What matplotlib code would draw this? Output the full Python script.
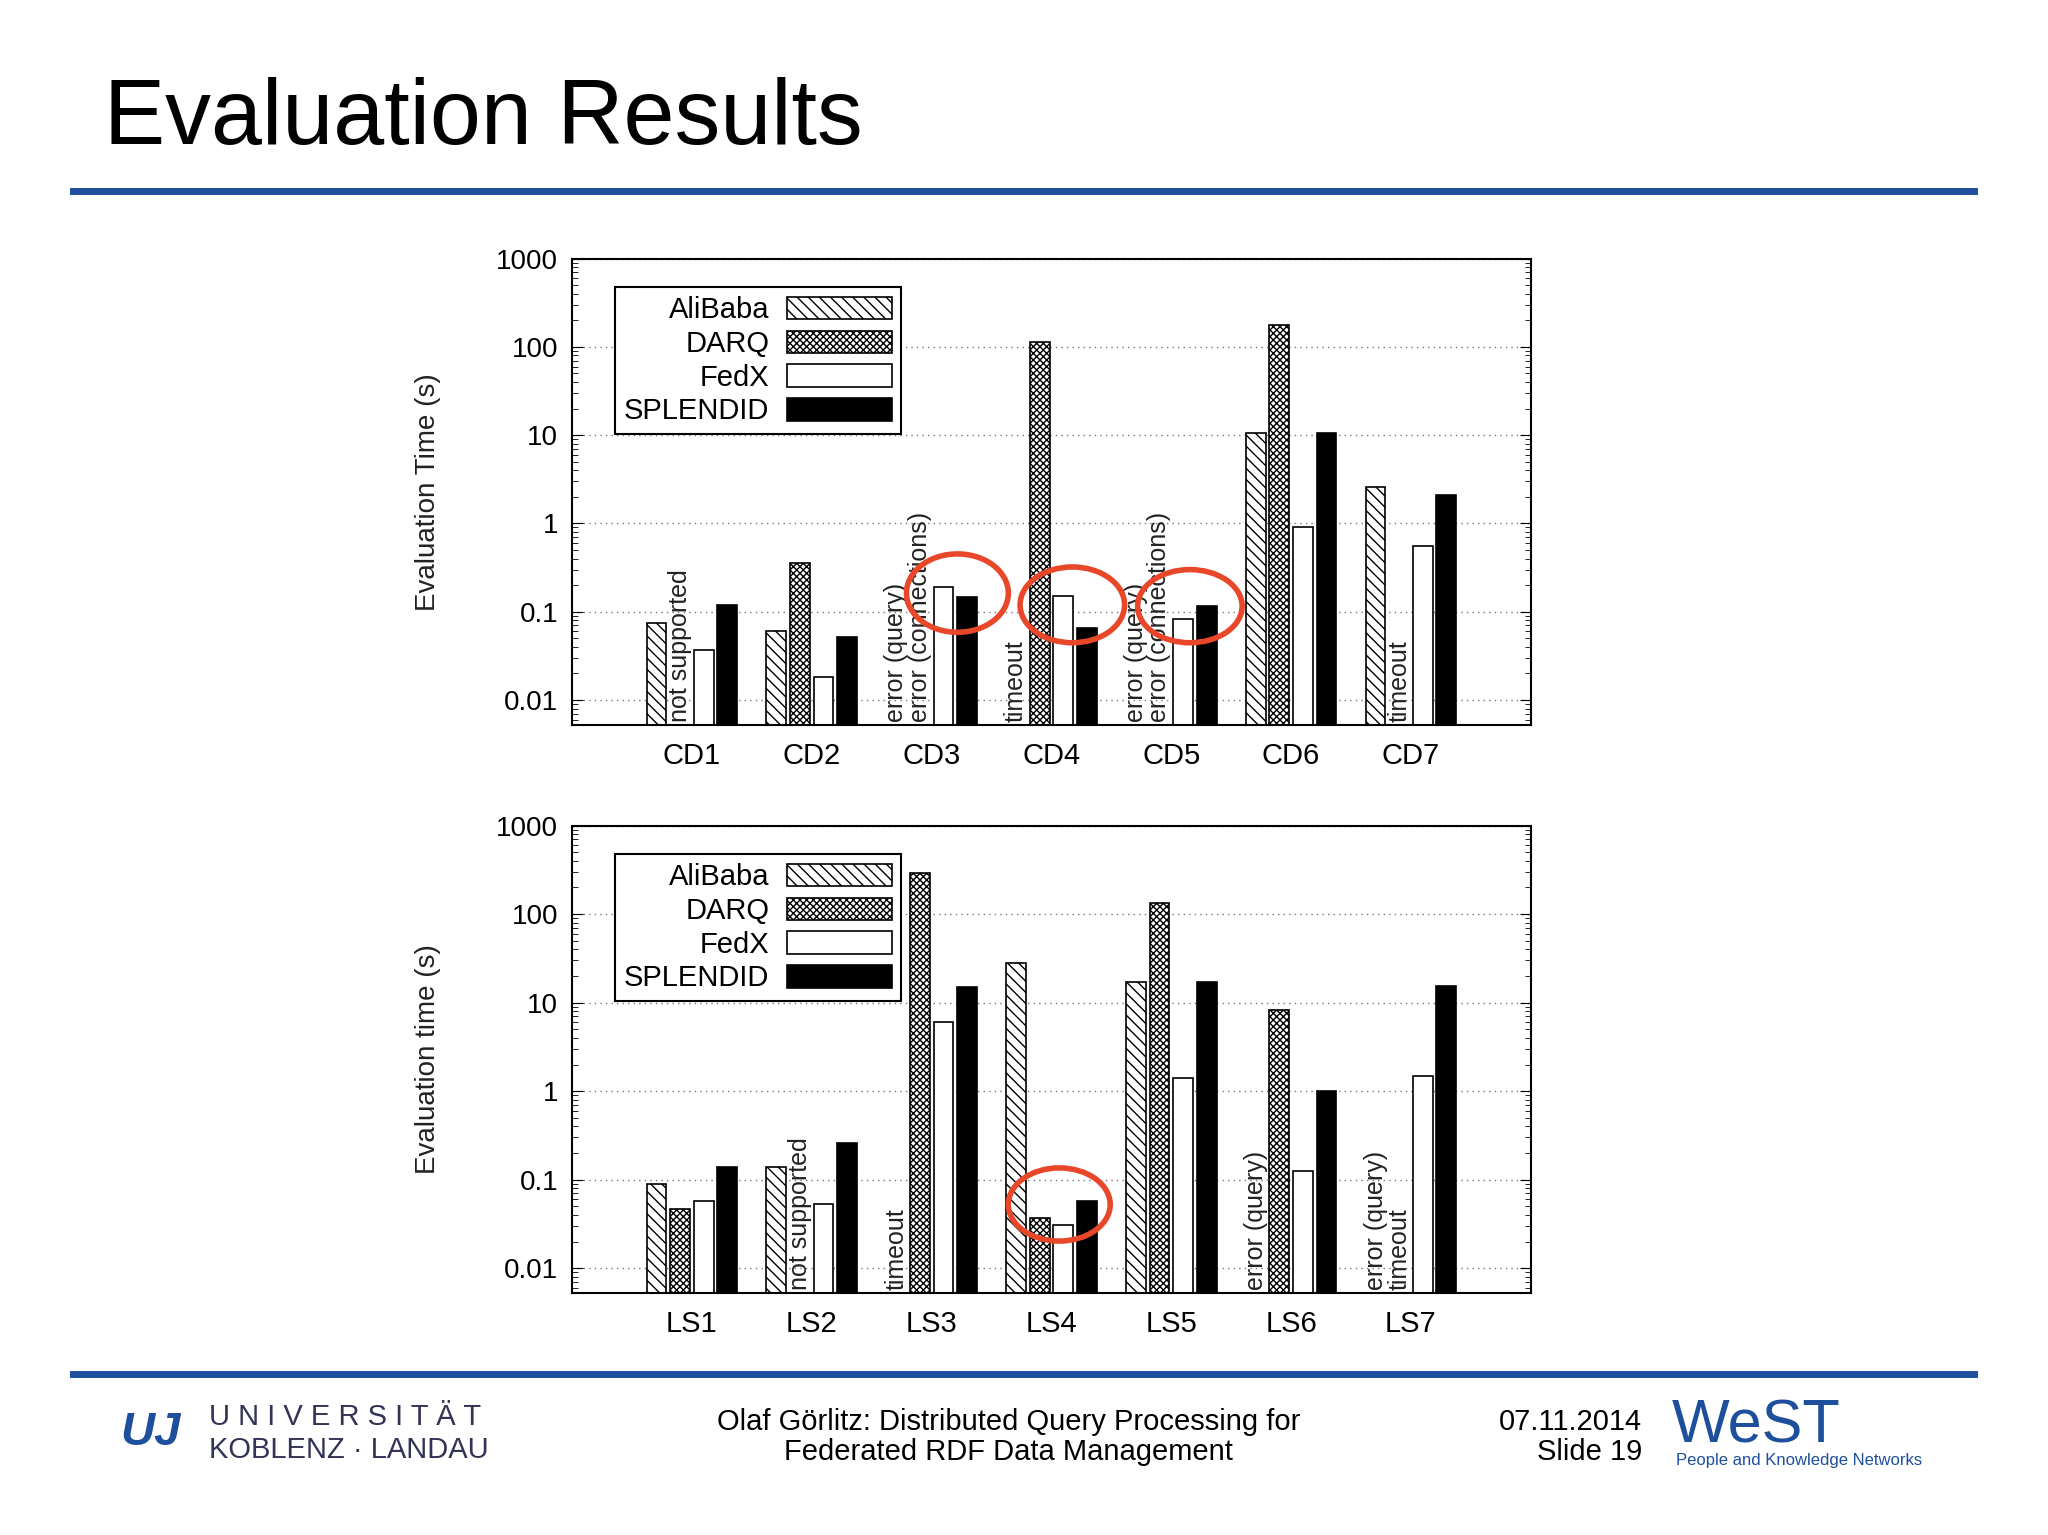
import numpy as np
import matplotlib
matplotlib.use("Agg")
import matplotlib.pyplot as plt
from matplotlib.patches import Ellipse, Patch
from matplotlib.ticker import FixedLocator, LogLocator, NullFormatter

plt.rcParams["font.family"] = ["Liberation Sans", "DejaVu Sans"]

# ── data ──────────────────────────────────────────────────────────────────────
systems = ["AliBaba", "DARQ", "FedX", "SPLENDID"]
cd_groups = ["CD1", "CD2", "CD3", "CD4", "CD5", "CD6", "CD7"]
cd_alibaba = [0.075, 0.06, None, None, None, 10.5, 2.6]
cd_darq = [None, 0.36, None, 115, None, 175, None]
cd_fedx = [0.037, 0.018, 0.19, 0.15, 0.083, 0.9, 0.55]
cd_splendid = [0.12, 0.052, 0.145, 0.065, 0.115, 10.5, 2.1]
# (group index, system index, note)
cd_notes = [(0, 1, "not supported"), (2, 0, "error (query)"),
            (2, 1, "error (connections)"), (3, 0, "timeout"),
            (4, 0, "error (query)"), (4, 1, "error (connections)"),
            (6, 1, "timeout")]

ls_groups = ["LS1", "LS2", "LS3", "LS4", "LS5", "LS6", "LS7"]
ls_alibaba = [0.09, 0.14, None, 28, 17, None, None]
ls_darq = [0.047, None, 290, 0.037, 135, 8.2, None]
ls_fedx = [0.058, 0.053, 6.0, 0.031, 1.4, 0.125, 1.5]
ls_splendid = [0.14, 0.26, 15, 0.058, 17, 1.0, 15.5]
ls_notes = [(1, 1, "not supported"), (2, 0, "timeout"), (5, 0, "error (query)"),
            (6, 0, "error (query)"), (6, 1, "timeout")]

W, H = 1568, 1175  # layout reference grid
fig = plt.figure(figsize=(20.48, 15.35), dpi=100)
fig.patch.set_facecolor("white")

def fx(x):
    return x / W

def fy(y):
    return 1 - y / H

styles = [dict(facecolor="white", hatch="\\\\\\"),
          dict(facecolor="white", hatch="xxxxx"),
          dict(facecolor="white", hatch=None),
          dict(facecolor="black", hatch=None)]
offsets = [-1.5, -0.5, 0.5, 1.5]
bw, step = 0.165, 0.197
ticklabels = ["0.01", "0.1", "1", "10", "100", "1000"]
tickvals = [0.01, 0.1, 1, 10, 100, 1000]


def panel(rect, groups, series, notes, ylabel):
    ax = fig.add_axes(rect)
    x = np.arange(1, len(groups) + 1)
    ax.set_yscale("log")
    ymin = 0.0052
    for k, vals in enumerate(series):
        for i, v in enumerate(vals):
            if v is None:
                continue
            ax.bar(x[i] + offsets[k] * step, v - ymin, bottom=ymin, width=bw,
                   edgecolor="black", linewidth=1.2, **styles[k])
    for gi, si, txt in notes:
        ax.text(x[gi] + offsets[si] * step, 0.0057, txt, rotation=90,
                ha="center", va="bottom", fontsize=18, color="#222222")
    ax.set_ylim(ymin, 1000)
    ax.set_xlim(0, 8)
    ax.set_xticks(x)
    ax.set_xticklabels(groups, fontsize=21)
    ax.yaxis.set_major_locator(FixedLocator(tickvals))
    ax.set_yticklabels(ticklabels, fontsize=20)
    ax.yaxis.set_minor_locator(LogLocator(subs=np.arange(2, 10)))
    ax.yaxis.set_minor_formatter(NullFormatter())
    ax.tick_params(which="both", direction="in", right=True, top=False)
    ax.tick_params(which="major", length=8, pad=10)
    ax.tick_params(which="minor", length=4)
    ax.tick_params(axis="x", length=0, pad=12)
    ax.grid(axis="y", which="major", linestyle=(0, (1, 3)), color="#777777", lw=1)
    ax.set_axisbelow(True)
    for s in ax.spines.values():
        s.set_linewidth(1.5)
    ax.set_ylabel(ylabel, fontsize=20, color="#222222", labelpad=40)
    handles = [Patch(edgecolor="black", linewidth=1.2, **st) for st in styles]
    leg = ax.legend(handles, systems, loc="upper left", bbox_to_anchor=(0.03, 0.97),
                    fontsize=21, markerfirst=False, fancybox=False, framealpha=1,
                    edgecolor="black", handlelength=3.6, handleheight=0.8,
                    labelspacing=0.2, borderpad=0.3, handletextpad=0.6)
    leg.get_frame().set_linewidth(1.5)
    return ax


panel([fx(438), fy(555), fx(1172) - fx(438), fy(198) - fy(555)], cd_groups,
      [cd_alibaba, cd_darq, cd_fedx, cd_splendid], cd_notes, "Evaluation Time (s)")
panel([fx(438), fy(990), fx(1172) - fx(438), fy(632) - fy(990)], ls_groups,
      [ls_alibaba, ls_darq, ls_fedx, ls_splendid], ls_notes, "Evaluation time (s)")

# red highlight circles
for cx, cy, w, h in [(733, 454, 78, 60), (821, 463, 80, 58),
                     (911, 464, 80, 56), (811, 922, 78, 56)]:
    fig.add_artist(Ellipse((fx(cx), fy(cy)), fx(w), h / H, transform=fig.transFigure,
                           fill=False, edgecolor="#e8472a", linewidth=4))

# slide decoration
fig.text(fx(80), fy(92), "Evaluation Results", fontsize=66, va="center", ha="left")
blue = "#1d4f9c"
for yy in (146, 1052):
    fig.add_artist(plt.Line2D([fx(56), fx(1511)], [fy(yy), fy(yy)],
                              transform=fig.transFigure, color=blue, lw=5))
fig.text(fx(772), fy(1100), "Olaf Görlitz: Distributed Query Processing for\n"
         "Federated RDF Data Management", fontsize=21, ha="center", va="center",
         linespacing=1.1)
fig.text(fx(1257), fy(1100), "07.11.2014\nSlide 19", fontsize=21, ha="right",
         va="center", linespacing=1.1)
fig.text(fx(160), fy(1085), "U N I V E R S I T Ä T", fontsize=21, color="#333355",
         va="center")
fig.text(fx(160), fy(1110), "KOBLENZ · LANDAU", fontsize=21, color="#333355",
         va="center")
fig.text(fx(92), fy(1097), "UJ", fontsize=34, color=blue, style="italic",
         va="center", fontweight="bold")
fig.text(fx(1280), fy(1092), "WeST", fontsize=44, color=blue, va="center")
fig.text(fx(1283), fy(1118), "People and Knowledge Networks", fontsize=12,
         color=blue, va="center")

fig.savefig("out.png", dpi=100)
